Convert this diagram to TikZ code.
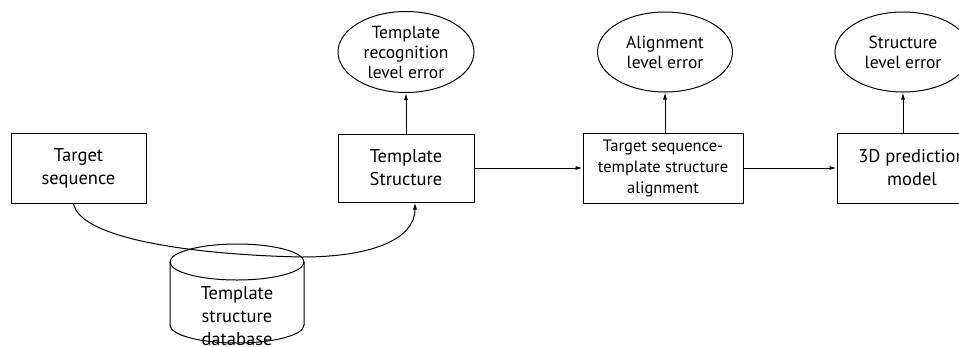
\documentclass[tikz,border=0pt]{standalone}
\usepackage{fontspec}
\setmainfont{PT Sans}
\usetikzlibrary{shapes.geometric,arrows.meta}
\begin{document}
\begin{tikzpicture}[x=1pt,y=-1pt,
  line width=1pt,
  arr/.style={-{Latex[length=7pt,width=4pt]}},
  boxnode/.style={draw,rectangle,align=center,inner sep=2pt,
    font=\fontsize{18.5}{23}\selectfont},
  errnode/.style={draw,ellipse,align=center,inner sep=0pt,
    font=\fontsize{17.5}{20}\selectfont},
  txt/.style={align=center,inner sep=0pt,font=\fontsize{18.5}{23}\selectfont}]
\useasboundingbox (0,0) rectangle (959,346);
\begin{scope}
\clip (0,0) rectangle (959,346);
% boxes
\node[boxnode,minimum width=135pt,minimum height=70pt] (target) at (78.5,168) {Target\\sequence};
\node[boxnode,minimum width=136pt,minimum height=68pt] (tstruct) at (406,168) {Template\\Structure};
\node[boxnode,minimum width=160pt,minimum height=70pt,font=\fontsize{16.5}{21}\selectfont] (align) at (663,168) {Target sequence-\\template structure\\alignment};
\node[boxnode,minimum width=150pt,minimum height=70pt] (pred) at (912,168) {3D prediction\\model};
% error ellipses
\node[errnode,minimum width=136pt,minimum height=81pt] (e1) at (406,52) {Template\\recognition\\level error};
\node[errnode,minimum width=135pt,minimum height=80pt] (e2) at (665,52) {Alignment\\level error};
\node[errnode,minimum width=136pt,minimum height=80pt] (e3) at (903,52) {Structure\\level error};
% cylinder (database)
\draw (237,262) ellipse [x radius=67, y radius=18];
\draw (170,262) -- (170,325) arc[start angle=180,end angle=360,x radius=67,y radius=-18] -- (304,262);
\node[txt] (db) at (237,316) {Template\\structure\\database};
\coordinate (dbtop) at (302,257);
% connectors
\draw[arr] (tstruct.north) -- (e1.south);
\draw[arr] (align.north -| e2.south) -- (e2.south);
\draw[arr] (pred.north -| e3.south) -- (e3.south);
\draw[arr] (tstruct.east) -- (align.west);
\draw[arr] (align.east) -- (pred.west);
\draw[arr] ([xshift=-5pt]target.south) .. controls (80,240) and (200,255) .. (dbtop)
  .. controls (370,257) and (415,240) .. ([xshift=9pt]tstruct.south);
\end{scope}
\end{tikzpicture}
\end{document}
